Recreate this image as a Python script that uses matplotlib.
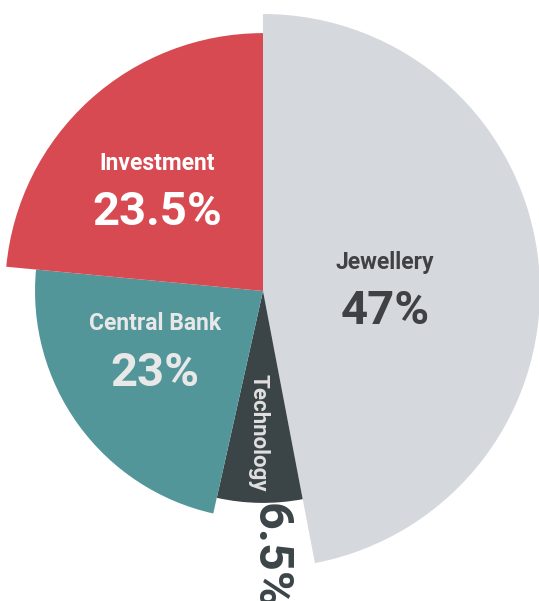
import matplotlib
matplotlib.use("Agg")
import matplotlib.pyplot as plt

# Gold demand by sector (share of total, %)
categories = ["Jewellery", "Technology", "Central Bank", "Investment"]
shares = [47, 6.5, 23, 23.5]
# relative outer radius of each sector's wedge
radius_scale = [1.0, 0.765, 0.823, 0.931]

colors = ["#d5d8dd", "#3b4548", "#52969a", "#d84a52"]

W, H = 539, 601
fig = plt.figure(figsize=(W / 100, H / 100), dpi=100)
ax = fig.add_axes([0, 0, 1, 1])

cx, cy = 263, H - 291
R = 277

wedges, _ = ax.pie(shares, colors=colors, startangle=90, counterclock=False,
                   radius=R, center=(cx, cy), frame=True,
                   wedgeprops=dict(linewidth=0))
for w, s in zip(wedges, radius_scale):
    w.set_radius(R * s)
ax.set_xlim(0, W)
ax.set_ylim(0, H)
ax.set_aspect("auto")
ax.axis("off")

font = "Roboto"

def label(x, y, name, value, name_color, value_color):
    ax.text(x, H - y, name, ha="center", va="center", fontsize=16.5,
            fontweight="bold", color=name_color, family=font)
    ax.text(x, H - y - 49, f"{value:g}%", ha="center", va="center",
            fontsize=34, fontweight="bold", color=value_color, family=font)

label(157, 163, categories[3], shares[3], "#ffffff", "#ffffff")
label(385, 262, categories[0], shares[0], "#3f4144", "#3f4144")
label(155, 324, categories[2], shares[2], "#e8e8e8", "#e8e8e8")

# narrow Technology wedge: vertical label inside, value below the wedge
ax.text(258, H - 433, categories[1], ha="center", va="center", rotation=-90,
        fontsize=16, fontweight="bold", color="#e0e0e0", family=font)
ax.text(270, H - 503, f"{shares[1]:g}%", ha="center", va="top", rotation=-90,
        fontsize=35, fontweight="bold", color="#3b4548", family=font)

fig.savefig("out.png", dpi=100)
